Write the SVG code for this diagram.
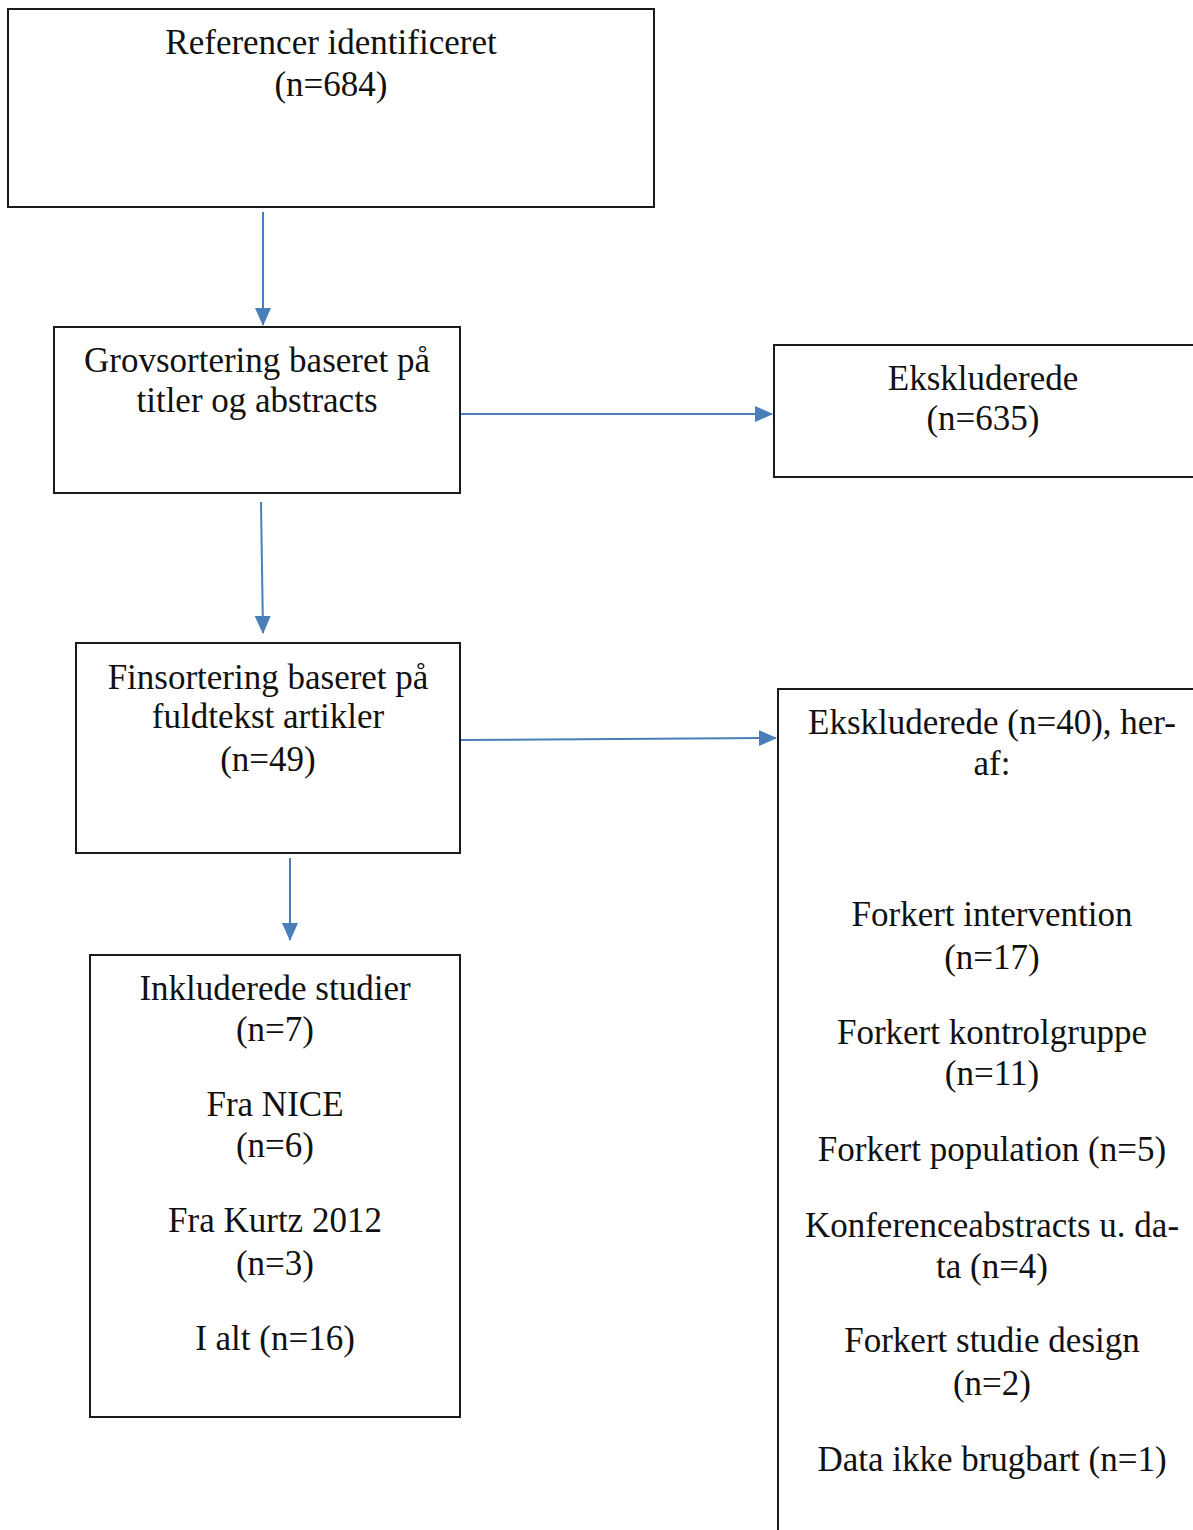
<svg xmlns="http://www.w3.org/2000/svg" width="1193" height="1530" viewBox="0 0 1193 1530">
<style>
.box{fill:#fff;stroke:#1a1a1a;stroke-width:2}
.t{font-family:"Liberation Serif","Times New Roman",serif;font-size:35px;fill:#111;text-anchor:middle}
.c{stroke:#4a7ebb;stroke-width:2;fill:none}
</style>
<defs>
<marker id="ah" markerWidth="9" markerHeight="8" refX="8.5" refY="4" orient="auto" markerUnits="strokeWidth">
<path d="M0,0 L9,4 L0,8 Z" fill="#4a7ebb"/>
</marker>
</defs>
<rect width="1193" height="1530" fill="#fff"/>
<g id="connectors">
<line class="c" x1="263" y1="212" x2="263" y2="325" marker-end="url(#ah)"/>
<line class="c" x1="461" y1="414" x2="772" y2="414" marker-end="url(#ah)"/>
<line class="c" x1="261" y1="502" x2="263" y2="633" marker-end="url(#ah)"/>
<line class="c" x1="461" y1="740" x2="776" y2="738" marker-end="url(#ah)"/>
<line class="c" x1="290" y1="858" x2="290" y2="940" marker-end="url(#ah)"/>
</g>
<g id="n1">
<rect class="box" x="8" y="9" width="646" height="198"/>
<text class="t" x="331" y="54">Referencer identificeret</text>
<text class="t" x="331" y="96">(n=684)</text>
</g>
<g id="n2">
<rect class="box" x="54" y="327" width="406" height="166"/>
<text class="t" x="257" y="372">Grovsortering baseret på</text>
<text class="t" x="257" y="412">titler og abstracts</text>
</g>
<g id="n3">
<rect class="box" x="774" y="345" width="430" height="132"/>
<text class="t" x="983" y="390">Ekskluderede</text>
<text class="t" x="983" y="430">(n=635)</text>
</g>
<g id="n4">
<rect class="box" x="76" y="643" width="384" height="210"/>
<text class="t" x="268" y="689">Finsortering baseret på</text>
<text class="t" x="268" y="728">fuldtekst artikler</text>
<text class="t" x="268" y="771">(n=49)</text>
</g>
<g id="n5">
<rect class="box" x="778" y="689" width="430" height="860"/>
<text class="t" x="992" y="734">Ekskluderede (n=40), her-</text>
<text class="t" x="992" y="775">af:</text>
<text class="t" x="992" y="926">Forkert intervention</text>
<text class="t" x="992" y="969">(n=17)</text>
<text class="t" x="992" y="1044">Forkert kontrolgruppe</text>
<text class="t" x="992" y="1085">(n=11)</text>
<text class="t" x="992" y="1161">Forkert population (n=5)</text>
<text class="t" x="992" y="1237">Konferenceabstracts u. da-</text>
<text class="t" x="992" y="1278">ta (n=4)</text>
<text class="t" x="992" y="1352">Forkert studie design</text>
<text class="t" x="992" y="1395">(n=2)</text>
<text class="t" x="992" y="1471">Data ikke brugbart (n=1)</text>
</g>
<g id="n6">
<rect class="box" x="90" y="955" width="370" height="462"/>
<text class="t" x="275" y="1000">Inkluderede studier</text>
<text class="t" x="275" y="1041">(n=7)</text>
<text class="t" x="275" y="1116">Fra NICE</text>
<text class="t" x="275" y="1157">(n=6)</text>
<text class="t" x="275" y="1232">Fra Kurtz 2012</text>
<text class="t" x="275" y="1275">(n=3)</text>
<text class="t" x="275" y="1350">I alt (n=16)</text>
</g>
</svg>
